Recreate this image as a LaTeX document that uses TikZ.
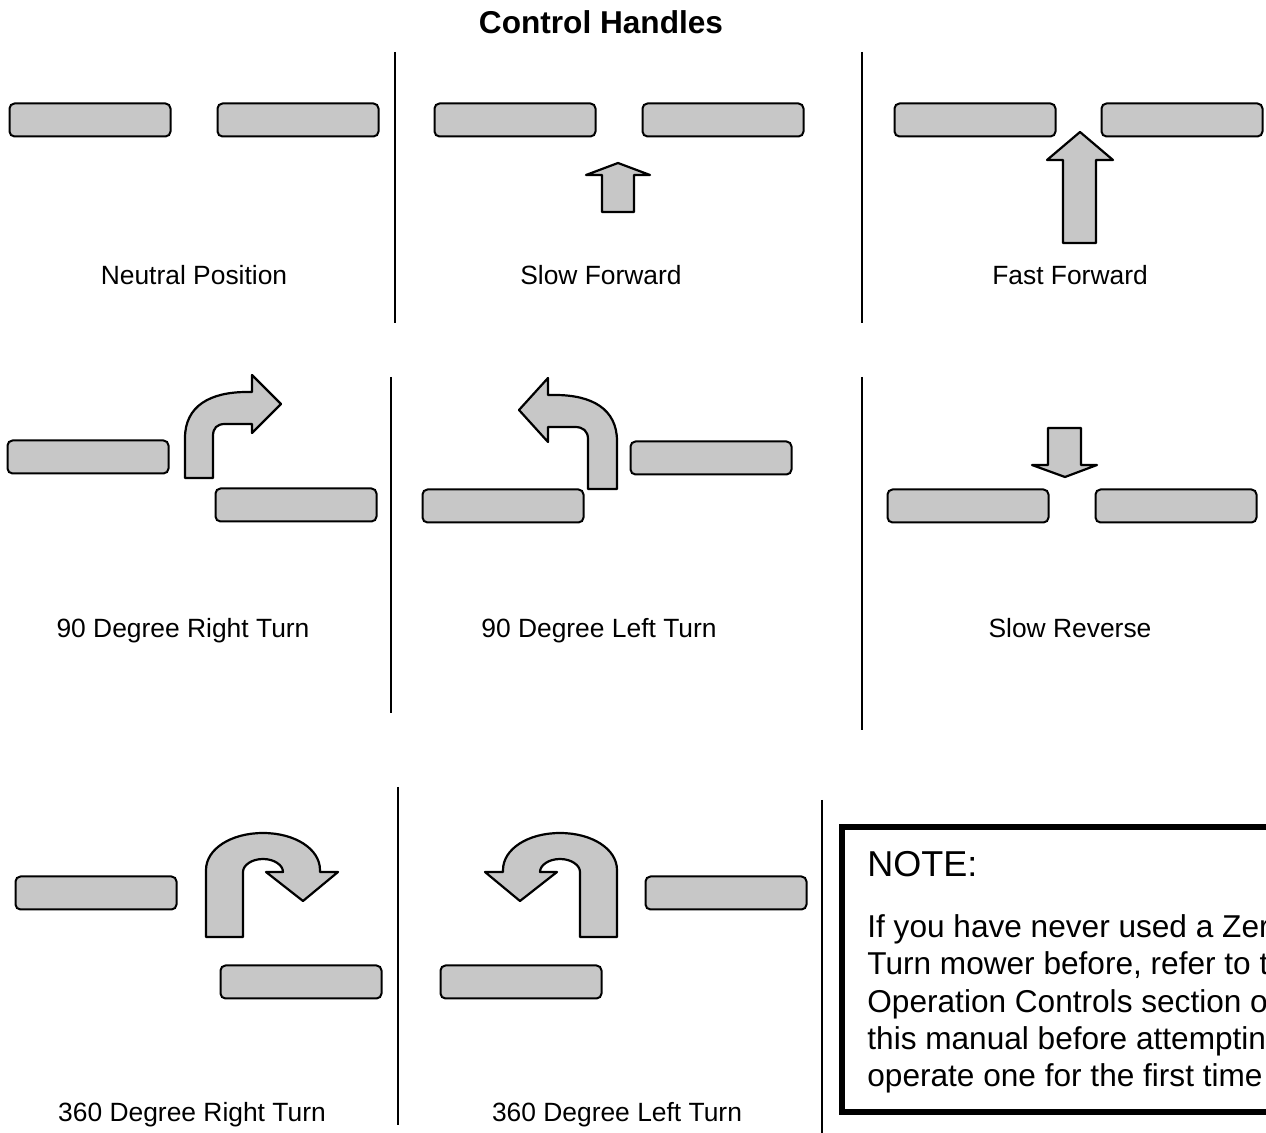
\documentclass[tikz,border=0pt]{standalone}
\usepackage{fontspec}
\setmainfont{Liberation Sans}
\usepackage{tikz}

\begin{document}
\begin{tikzpicture}[x=0.5pt,y=-0.5pt]

\tikzstyle{handle}=[rectangle,draw=black,fill=black!22,line width=1pt,rounded corners = 2.5pt, minimum width=80.5pt, minimum height=16.5pt, inner sep=0pt]
\tikzstyle{shaft}=[draw=black,fill=black!22,line width=1.1pt,line join=round]
\tikzstyle{divider}=[line width=1pt]
\tikzstyle{caption}=[font=\fontsize{13.2}{16}\selectfont, anchor=base]
\tikzstyle{notetext}=[font=\fontsize{15.8}{19}\selectfont, anchor=base west, inner sep=0pt]

\useasboundingbox (0,0) rectangle (1266,1133);
\clip (0,0) rectangle (1266,1133);

\node[font=\fontsize{15.8}{19}\selectfont\bfseries, anchor=base] (title) at (601,34) {Control Handles};

% dividers
\draw[divider] (395,52) -- (395,323);
\draw[divider] (862,52) -- (862,323);
\draw[divider] (391,377) -- (391,713);
\draw[divider] (862,377) -- (862,730);
\draw[divider] (398,787) -- (398,1125);
\draw[divider] (822,800) -- (822,1133);

% neutral position
\node[handle] (neutralL) at (90,120) {};
\node[handle] (neutralR) at (298,120) {};
\node[caption] (neutral) at (194,285) {Neutral Position};

% slow forward
\node[handle] (slowfwdL) at (515,120) {};
\node[handle] (slowfwdR) at (723,120) {};
\draw[shaft] (602,212) -- (602,175) -- (586,175) -- (618,163) -- (650,175) -- (634,175) -- (634,212) -- cycle;
\node[caption] (slowfwd) at (601,285) {Slow Forward};

% fast forward
\node[handle] (fastfwdL) at (975,120) {};
\node[handle] (fastfwdR) at (1182,120) {};
\draw[shaft] (1063,243) -- (1063,160) -- (1047,160) -- (1080,132) -- (1113,160) -- (1096,160) -- (1096,243) -- cycle;
\node[caption] (fastfwd) at (1070,285) {Fast Forward};

% 90 degree right turn
\node[handle] (rightL) at (88,457) {};
\node[handle] (rightR) at (296,505) {};
\begin{scope}[shift={(185,478)}]
\draw[shaft] (0,0) -- (0,-40) .. controls (0,-72) and (25,-86) .. (62,-86) -- (67,-86) -- (67,-103) -- (96,-74) -- (67,-45) -- (67,-54) -- (40,-54) .. controls (32,-54) and (28,-50) .. (28,-42) -- (28,0) -- cycle;
\end{scope}
\node[caption] (right) at (183,638) {90 Degree Right Turn};

% 90 degree left turn
\node[handle] (leftL) at (503,506) {};
\node[handle] (leftR) at (711,458) {};
\begin{scope}[shift={(617,489)},xscale=-1]
\draw[shaft] (0,0) -- (0,-48) .. controls (0,-80) and (25,-94) .. (62,-94) -- (69,-94) -- (69,-111) -- (98,-79) -- (69,-47) -- (69,-62) -- (42,-62) .. controls (34,-62) and (29,-58) .. (29,-50) -- (29,0) -- cycle;
\end{scope}
\node[caption] (left) at (599,638) {90 Degree Left Turn};

% slow reverse
\node[handle] (slowrevL) at (968,506) {};
\node[handle] (slowrevR) at (1176,506) {};
\draw[shaft] (1048,428) -- (1048,465) -- (1032,465) -- (1065,477) -- (1097,465) -- (1081,465) -- (1081,428) -- cycle;
\node[caption] (slowrev) at (1070,638) {Slow Reverse};

% 360 degree right turn
\node[handle] (uright1) at (96,893) {};
\node[handle] (uright2) at (301,982) {};
\begin{scope}[shift={(206,937)}]
\draw[shaft] (0,0) -- (0,-67) .. controls (0,-88) and (25,-104) .. (57,-104) .. controls (89,-104) and (114,-88) .. (114,-67) -- (114,-65) -- (132,-65) -- (97,-36) -- (60,-65) -- (77,-65) .. controls (77,-72) and (68,-78) .. (57,-78) .. controls (46,-78) and (37,-72) .. (37,-65) -- (37,0) -- cycle;
\end{scope}
\node[caption] (uright) at (192,1122) {360 Degree Right Turn};

% 360 degree left turn
\node[handle] (uleft1) at (521,982) {};
\node[handle] (uleft2) at (726,893) {};
\begin{scope}[shift={(617,937)},xscale=-1]
\draw[shaft] (0,0) -- (0,-67) .. controls (0,-88) and (25,-104) .. (57,-104) .. controls (89,-104) and (114,-88) .. (114,-67) -- (114,-65) -- (132,-65) -- (97,-36) -- (60,-65) -- (77,-65) .. controls (77,-72) and (68,-78) .. (57,-78) .. controls (46,-78) and (37,-72) .. (37,-65) -- (37,0) -- cycle;
\end{scope}
\node[caption] (uleft) at (617,1122) {360 Degree Left Turn};

% note box
\draw[line width=3pt] (842,827) rectangle (1320,1112);
\node[font=\fontsize{18}{22}\selectfont, anchor=base west, inner sep=0pt] (note) at (867,877) {NOTE:};
\node[notetext] (line1) at (867,938) {If you have never used a Zero};
\node[notetext] (line2) at (867,975) {Turn mower before, refer to the};
\node[notetext] (line3) at (867,1013) {Operation Controls section of};
\node[notetext] (line4) at (867,1050) {this manual before attempting to};
\node[notetext] (line5) at (867,1087) {operate one for the first time};

\end{tikzpicture}
\end{document}
